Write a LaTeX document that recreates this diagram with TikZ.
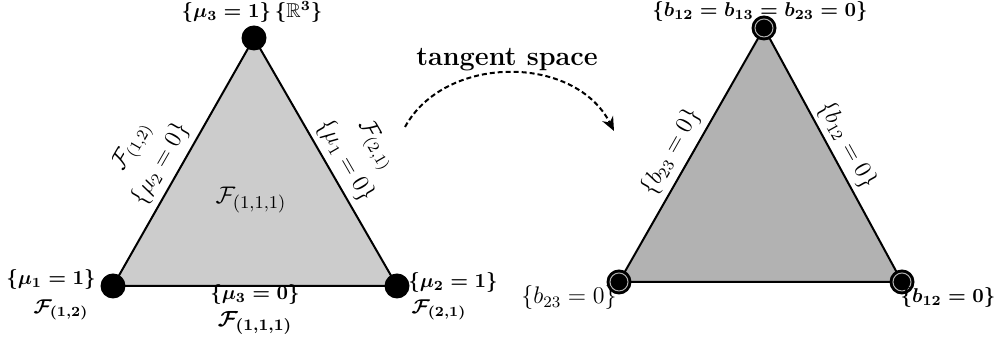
\documentclass[tikz,border=0pt]{standalone}
\usepackage{amsmath,amssymb}
\usetikzlibrary{arrows.meta,positioning}

\begin{document}
\begin{tikzpicture}[
    x=0.5pt, y=0.5pt,
    face/.style={draw, line width=1pt, line join=round},
    vdot/.style={circle, fill=black, minimum size=12.5pt, inner sep=0pt},
    hdot/.style={circle, fill=black, minimum size=12.5pt, inner sep=0pt,
        path picture={\draw[gray!60, line width=0.5pt] (path picture bounding box.center) circle (4.5pt);}},
    vlbl/.style={inner sep=1pt, font=\boldmath},
    elbl/.style={inner sep=1pt, font=\fontsize{12}{14}\selectfont},
    arr/.style={-{Stealth[length=7pt, width=6pt]}, dash pattern=on 2.5pt off 1.5pt, line width=1pt}
]
\useasboundingbox (0,0) rectangle (998,356);

% corners of the two simplices
\coordinate (a1) at (113,70);
\coordinate (a2) at (397,70);
\coordinate (a3) at (254,318);
\coordinate (b1) at (619,74);
\coordinate (b2) at (902,74);
\coordinate (b3) at (764,328);

\filldraw[face, fill=gray!40] (a1) -- (a2) -- (a3) -- cycle;
\filldraw[face, fill=gray!60] (b1) -- (b2) -- (b3) -- cycle;

\node[vdot] (v1) at (a1) {};
\node[vdot] (v2) at (a2) {};
\node[vdot] (v3) at (a3) {};
\node[hdot] (w1) at (b1) {};
\node[hdot] (w2) at (b2) {};
\node[hdot] (w3) at (b3) {};

% left simplex
\node[vlbl] (v3lbl) at (252,344) {$\{\mu_3=1\}\,\{\mathbb{R}^3\}$};
\node[vlbl] (v1lbl) at (51,76) {$\{\mu_1=1\}$};
\node[vlbl] (v1f) at (61,46) {$\mathcal{F}_{(1,2)}$};
\node[vlbl] (v2lbl) at (453,73) {$\{\mu_2=1\}$};
\node[vlbl] (v2f) at (439,46) {$\mathcal{F}_{(2,1)}$};
\node[vlbl] (e3lbl) at (255,61) {$\{\mu_3=0\}$};
\node[vlbl, font=\fontsize{11}{13}\selectfont\boldmath] (e3f) at (255,33) {$\mathcal{F}_{(1,1,1)}$};
\node[elbl, font=\fontsize{13}{15}\selectfont] (inner) at (251,156) {$\mathcal{F}_{(1,1,1)}$};
\node[elbl, rotate=60] (e2lbl) at (160.5,192) {$\{\mu_2=0\}$};
\node[elbl, rotate=60] (e2f) at (132.5,209.5) {$\mathcal{F}_{(1,2)}$};
\node[elbl, rotate=-60] (e1lbl) at (345.5,195) {$\{\mu_1=0\}$};
\node[elbl, rotate=-60] (e1f) at (375.5,211) {$\mathcal{F}_{(2,1)}$};

% right simplex
\node[vlbl] (w3lbl) at (760,344) {$\{b_{12}=b_{13}=b_{23}=0\}$};
\node[elbl] (w1lbl) at (569,58) {$\{b_{23}=0\}$};
\node[vlbl] (w2lbl) at (948,58) {$\{b_{12}=0\}$};
\node[elbl, rotate=60.5] (f1lbl) at (671,204) {$\{b_{23}=0\}$};
\node[elbl, rotate=-61] (f2lbl) at (847,211) {$\{b_{12}=0\}$};

% tangent map
\node[font=\fontsize{13.5}{16}\selectfont\bfseries] (tsp) at (507,296) {tangent space};
\coordinate (arrs) at (405,229);
\coordinate (arre) at (614,225);
\draw[arr] (arrs) .. controls (445,302) and (575,302) .. (arre);
\end{tikzpicture}
\end{document}
